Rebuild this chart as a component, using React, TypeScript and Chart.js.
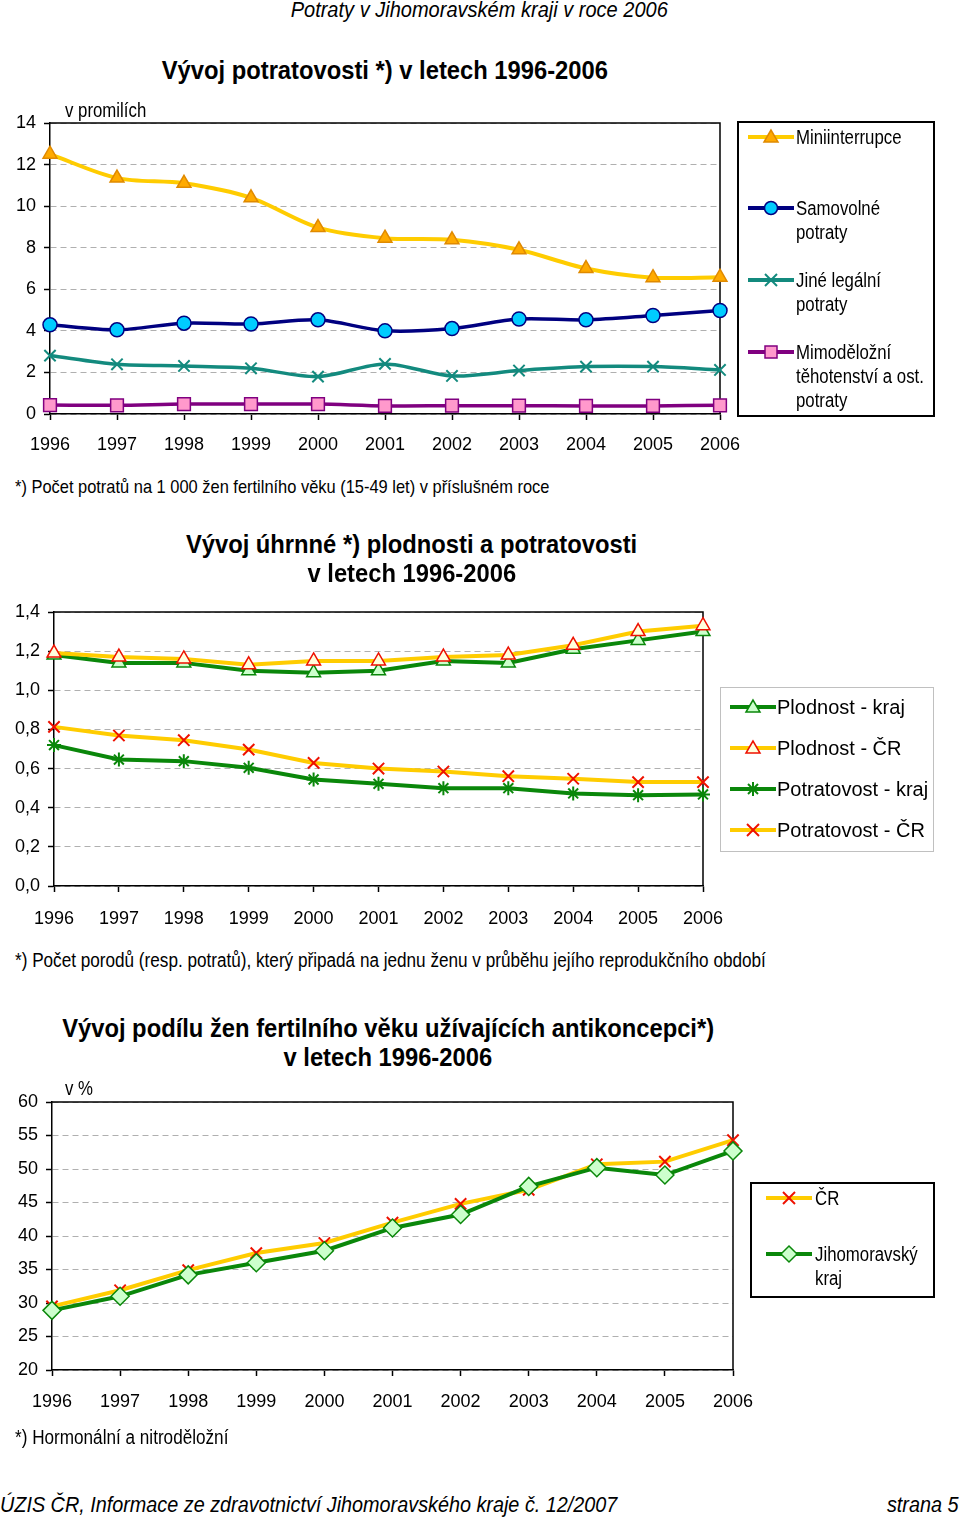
import React, { useEffect, useRef } from 'react';
import { Chart, registerables } from 'chart.js';
Chart.register(...registerables);

// ---------- DATA ----------
const years = ['1996', '1997', '1998', '1999', '2000', '2001', '2002', '2003', '2004', '2005', '2006'];

// Chart 1 – v promilích
const miniinterrupce = [12.5, 11.35, 11.1, 10.4, 8.97, 8.46, 8.38, 7.9, 7.0, 6.56, 6.58];
const samovolne = [4.29, 4.05, 4.37, 4.33, 4.53, 4.0, 4.11, 4.57, 4.53, 4.74, 4.98];
const jineLegalni = [2.81, 2.39, 2.31, 2.2, 1.8, 2.41, 1.83, 2.09, 2.28, 2.28, 2.12];
const mimodelozni = [0.43, 0.42, 0.48, 0.48, 0.48, 0.39, 0.4, 0.4, 0.39, 0.39, 0.42];

// Chart 2 – úhrnná plodnost a potratovost
const plodnostKraj = [1.18, 1.14, 1.14, 1.1, 1.09, 1.1, 1.15, 1.14, 1.21, 1.255, 1.3];
const plodnostCR = [1.19, 1.17, 1.16, 1.13, 1.15, 1.15, 1.17, 1.18, 1.23, 1.3, 1.33];
const potratovostKraj = [0.72, 0.646, 0.638, 0.604, 0.544, 0.522, 0.5, 0.5, 0.473, 0.464, 0.468];
const potratovostCR = [0.813, 0.769, 0.745, 0.697, 0.629, 0.6, 0.585, 0.561, 0.548, 0.531, 0.531];

// Chart 3 – antikoncepce v %
const antikoncepceCR = [29.5, 31.9, 34.9, 37.45, 38.95, 42.0, 44.8, 46.9, 50.7, 51.1, 54.3];
const antikoncepceJM = [28.9, 31.0, 34.2, 36.0, 37.8, 41.2, 43.2, 47.4, 50.2, 49.1, 52.7];

// ---------- STYLE ----------
const SANS = '"Liberation Sans", Arial, Helvetica, sans-serif';
const COND = 0.84;
const YELLOW = '#FFCC00';
const ORANGE = '#FFAA00';
const NAVY = '#000080';
const CYAN = '#00CCFF';
const TEAL = '#138A7E';
const PURPLE = '#800080';
const PINK = '#FF99CC';
const GREEN = '#0A870A';
const LGREEN = '#CCFFCC';
const RED = '#EE1100';

const framePlugin = {
  id: 'frame',
  beforeDatasetsDraw(chart: any) {
    const { ctx, chartArea } = chart;
    ctx.save();
    ctx.strokeStyle = '#000';
    ctx.lineWidth = 1.5;
    ctx.beginPath();
    ctx.moveTo(chartArea.left, chartArea.top);
    ctx.lineTo(chartArea.right, chartArea.top);
    ctx.lineTo(chartArea.right, chartArea.bottom);
    ctx.stroke();
    ctx.restore();
  },
};

type Area = { left: number; top: number; right: number; bottom: number };

function buildConfig(datasets: any[], min: number, max: number, step: number, fmt: (v: number) => string, area: Area, height: number, xPad: number) {
  const xAxisH = 46;
  return {
    type: 'line',
    data: { labels: years, datasets },
    plugins: [framePlugin],
    options: {
      animation: false,
      responsive: false,
      maintainAspectRatio: false,
      layout: {
        padding: { left: 0, top: area.top, right: 960 - area.right, bottom: height - area.bottom - xAxisH },
      },
      plugins: { legend: { display: false }, tooltip: { enabled: false }, title: { display: false } },
      scales: {
        x: {
          offset: false,
          afterFit: (s: any) => { s.height = xAxisH; },
          grid: { drawOnChartArea: false, drawTicks: true, tickLength: 6, tickColor: '#000', tickWidth: 1.5, color: '#000' },
          border: { display: true, color: '#000', width: 1.5 },
          ticks: { color: '#000', font: { family: SANS, size: 18 }, padding: xPad, autoSkip: false, maxRotation: 0 },
        },
        y: {
          min, max,
          afterFit: (s: any) => { s.width = area.left; },
          grid: { color: '#B0B0B0', lineWidth: 1, drawTicks: true, tickLength: 6, tickColor: '#000', tickWidth: 1.5, tickBorderDash: [] },
          border: { display: true, color: '#000', width: 1.5, dash: [6, 4] },
          ticks: { stepSize: step, color: '#000', font: { family: SANS, size: 18 }, padding: 8, callback: (v: any) => fmt(Number(v)) },
        },
      },
    },
  };
}

function ds(label: string, data: number[], line: string, style: string, fill: string, border: string, radius: number, idx: number, tension = 0, bw = 4) {
  return {
    label, data,
    borderColor: line, borderWidth: bw, tension,
    pointStyle: style, pointRadius: radius, pointBackgroundColor: fill, pointBorderColor: border,
    pointBorderWidth: style === 'crossRot' || style === 'star' ? 2 : 1.5,
    clip: false, order: 10 - idx, fill: false,
  };
}

function ChartCanvas({ top, height, config }: { top: number; height: number; config: () => any }) {
  const ref = useRef<HTMLCanvasElement>(null);
  useEffect(() => {
    const c = new Chart(ref.current as HTMLCanvasElement, config());
    return () => c.destroy();
  }, []);
  return <canvas ref={ref} width={960} height={height} style={{ position: 'absolute', left: 0, top, width: 960, height }} />;
}

function Marker({ kind, fill, stroke }: { kind: string; fill: string; stroke: string }) {
  const c = 23, m = 10;
  if (kind === 'triangle') return <polygon points={`${c},${m - 7} ${c - 7},${m + 5} ${c + 7},${m + 5}`} fill={fill} stroke={stroke} strokeWidth={1.5} />;
  if (kind === 'circle') return <circle cx={c} cy={m} r={6.5} fill={fill} stroke={stroke} strokeWidth={1.5} />;
  if (kind === 'rect') return <rect x={c - 6} y={m - 6} width={12} height={12} fill={fill} stroke={stroke} strokeWidth={1.5} />;
  if (kind === 'rectRot') return <polygon points={`${c},${m - 8} ${c + 8},${m} ${c},${m + 8} ${c - 8},${m}`} fill={fill} stroke={stroke} strokeWidth={1.5} />;
  if (kind === 'crossRot') return <g stroke={stroke} strokeWidth={2}><line x1={c - 6} y1={m - 6} x2={c + 6} y2={m + 6} /><line x1={c - 6} y1={m + 6} x2={c + 6} y2={m - 6} /></g>;
  if (kind === 'star') return <g stroke={stroke} strokeWidth={2}><line x1={c - 5} y1={m - 5} x2={c + 5} y2={m + 5} /><line x1={c - 5} y1={m + 5} x2={c + 5} y2={m - 5} /><line x1={c} y1={m - 7} x2={c} y2={m + 7} /></g>;
  return null;
}

type LItem = { lines: string[]; y: number; line: string; kind: string; fill: string; stroke: string };

// y = centre of the first text line (relative to the legend's inner box)
function Legend({ left, top, width, height, border, items, size, lh, sampleX, textX, scale }: any) {
  return (
    <div style={{ position: 'absolute', left, top, width, height, border, boxSizing: 'border-box' }}>
      {items.map((it: LItem, i: number) => (
        <div key={i}>
          <svg width={46} height={20} style={{ position: 'absolute', left: sampleX, top: it.y - 10 }}>
            <line x1={0} y1={10} x2={46} y2={10} stroke={it.line} strokeWidth={4} />
            <Marker kind={it.kind} fill={it.fill} stroke={it.stroke} />
          </svg>
          <div style={{ position: 'absolute', left: textX, top: it.y - lh / 2, fontFamily: SANS, fontSize: size, lineHeight: lh + 'px', whiteSpace: 'nowrap', color: '#000', transform: `scaleX(${scale})`, transformOrigin: 'left center' }}>
            {it.lines.map((l, j) => <div key={j}>{l}</div>)}
          </div>
        </div>
      ))}
    </div>
  );
}

function Txt({ x, y, text, size, bold, italic, align, scale }: any) {
  const sc = scale ?? COND;
  const lh = Math.round(size * 1.2);
  const style: any = {
    position: 'absolute', top: y - lh / 2, fontFamily: SANS, fontSize: size, lineHeight: lh + 'px',
    fontWeight: bold ? 'bold' : 'normal', fontStyle: italic ? 'italic' : 'normal', whiteSpace: 'nowrap', color: '#000',
  };
  const inner: any = { display: 'inline-block', transform: `scaleX(${sc})` };
  if (align === 'center') { style.left = x - 500; style.width = 1000; style.textAlign = 'center'; inner.transformOrigin = 'center center'; }
  else if (align === 'right') { style.right = 960 - x; style.textAlign = 'right'; inner.transformOrigin = 'right center'; }
  else { style.left = x; inner.transformOrigin = 'left center'; }
  return <div style={style}><span style={inner}>{text}</span></div>;
}

const fmtInt = (v: number) => String(Math.round(v));
const fmtComma = (v: number) => v.toFixed(1).replace('.', ',');

export default function App() {
  const chart1 = () => buildConfig([
    ds('Miniinterrupce', miniinterrupce, YELLOW, 'triangle', ORANGE, '#E08A00', 8, 0, 0.3),
    ds('Samovolné potraty', samovolne, NAVY, 'circle', CYAN, NAVY, 7, 1, 0.3, 3.5),
    ds('Jiné legální potraty', jineLegalni, TEAL, 'crossRot', TEAL, TEAL, 8, 2, 0.3, 3.5),
    ds('Mimoděložní těhotenství a ost. potraty', mimodelozni, PURPLE, 'rect', PINK, PURPLE, 9, 3, 0.3, 3.5),
  ], 0, 14, 2, fmtInt, { left: 50, top: 28, right: 720, bottom: 319 }, 370, 14);

  const chart2 = () => buildConfig([
    ds('Plodnost - kraj', plodnostKraj, GREEN, 'triangle', LGREEN, GREEN, 8, 0),
    ds('Plodnost - ČR', plodnostCR, YELLOW, 'triangle', '#FFFFDD', RED, 8, 1),
    ds('Potratovost - kraj', potratovostKraj, GREEN, 'star', GREEN, GREEN, 7, 2),
    ds('Potratovost - ČR', potratovostCR, YELLOW, 'crossRot', RED, RED, 8, 3),
  ], 0, 1.4, 0.2, fmtComma, { left: 54, top: 27, right: 703, bottom: 301 }, 360, 16);

  const chart3 = () => buildConfig([
    ds('ČR', antikoncepceCR, YELLOW, 'crossRot', RED, RED, 8, 0),
    ds('Jihomoravský kraj', antikoncepceJM, GREEN, 'rectRot', LGREEN, GREEN, 9, 1),
  ], 20, 60, 5, fmtInt, { left: 52, top: 27, right: 733, bottom: 295 }, 360, 15);

  return (
    <div style={{ position: 'absolute', left: 0, top: 0, width: 960, height: 1520, background: '#fff', overflow: 'hidden' }}>
      <ChartCanvas top={95} height={370} config={chart1} />
      <ChartCanvas top={585} height={360} config={chart2} />
      <ChartCanvas top={1075} height={360} config={chart3} />

      <Txt x={479} y={10} text="Potraty v Jihomoravském kraji v roce 2006" size={22} italic align="center" scale={0.91} />
      <Txt x={385} y={70} text="Vývoj potratovosti *) v letech 1996-2006" size={25} bold align="center" scale={0.95} />
      <Txt x={65} y={110} text="v promilích" size={20} />
      <Txt x={15} y={486} text="*)  Počet potratů na 1 000 žen fertilního věku (15-49 let) v příslušném roce" size={19} scale={0.865} />

      <Txt x={412} y={544} text="Vývoj úhrnné *) plodnosti a potratovosti" size={25} bold align="center" scale={0.95} />
      <Txt x={412} y={573} text="v letech 1996-2006" size={25} bold align="center" scale={0.95} />
      <Txt x={15} y={960} text="*) Počet porodů (resp. potratů), který připadá na jednu ženu v průběhu jejího reprodukčního období" size={20} scale={0.857} />

      <Txt x={388} y={1028} text="Vývoj podílu žen fertilního věku užívajících antikoncepci*)" size={25} bold align="center" scale={0.95} />
      <Txt x={388} y={1057} text="v letech 1996-2006" size={25} bold align="center" scale={0.95} />
      <Txt x={65} y={1088} text="v %" size={20} />
      <Txt x={15} y={1437} text="*) Hormonální a nitroděložní" size={20} scale={0.857} />

      <Txt x={0} y={1505} text="ÚZIS ČR, Informace ze zdravotnictví Jihomoravského kraje č. 12/2007" size={22} italic scale={0.9} />
      <Txt x={958} y={1505} text="strana 5" size={22} italic align="right" scale={0.9} />

      <Legend left={737} top={121} width={198} height={296} border="2px solid #000" size={20} lh={24} sampleX={9} textX={57} scale={COND}
        items={[
          { lines: ['Miniinterrupce'], y: 14, line: YELLOW, kind: 'triangle', fill: ORANGE, stroke: '#E08A00' },
          { lines: ['Samovolné', 'potraty'], y: 85, line: NAVY, kind: 'circle', fill: CYAN, stroke: NAVY },
          { lines: ['Jiné legální', 'potraty'], y: 157, line: TEAL, kind: 'crossRot', fill: TEAL, stroke: TEAL },
          { lines: ['Mimoděložní', 'těhotenství a ost.', 'potraty'], y: 229, line: PURPLE, kind: 'rect', fill: PINK, stroke: PURPLE },
        ]} />

      <Legend left={720} top={687} width={214} height={165} border="1px solid #C0C0C0" size={20} lh={22} sampleX={9} textX={56} scale={1}
        items={[
          { lines: ['Plodnost - kraj'], y: 19, line: GREEN, kind: 'triangle', fill: LGREEN, stroke: GREEN },
          { lines: ['Plodnost - ČR'], y: 60, line: YELLOW, kind: 'triangle', fill: '#FFFFDD', stroke: RED },
          { lines: ['Potratovost - kraj'], y: 101, line: GREEN, kind: 'star', fill: GREEN, stroke: GREEN },
          { lines: ['Potratovost - ČR'], y: 142, line: YELLOW, kind: 'crossRot', fill: RED, stroke: RED },
        ]} />

      <Legend left={750} top={1182} width={185} height={116} border="2px solid #000" size={20} lh={24} sampleX={14} textX={63} scale={COND}
        items={[
          { lines: ['ČR'], y: 14, line: YELLOW, kind: 'crossRot', fill: RED, stroke: RED },
          { lines: ['Jihomoravský', 'kraj'], y: 70, line: GREEN, kind: 'rectRot', fill: LGREEN, stroke: GREEN },
        ]} />
    </div>
  );
}
